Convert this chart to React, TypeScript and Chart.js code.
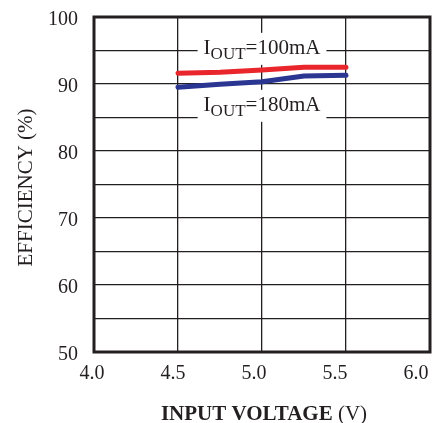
import React, { useEffect, useRef } from "react";
import { Chart, registerables } from "chart.js";

Chart.register(...registerables);

// ---- data ----
const inputVoltage = [4.5, 4.75, 5.0, 5.25, 5.5];
const eff100mA = [91.6, 91.75, 92.1, 92.5, 92.5];
const eff180mA = [89.5, 89.95, 90.35, 91.2, 91.3];
const xTickValues = [4.0, 4.5, 5.0, 5.5, 6.0];
const yMin = 50;
const yMax = 100;
const xMin = 4.0;
const xMax = 6.0;
const labels = [
  { main: "I", sub: "OUT", rest: "=100mA", x: 5.0, y: 94.5 },
  { main: "I", sub: "OUT", rest: "=180mA", x: 5.0, y: 86.0 },
];

const INK = "#231f20";
const SERIF = "'Liberation Serif', 'Times New Roman', serif";

const overlayPlugin = {
  id: "overlay",
  beforeDatasetsDraw(chart: any) {
    const { ctx, chartArea } = chart;
    const xs = chart.scales.x;
    const ys = chart.scales.y;
    ctx.save();
    // frame
    ctx.strokeStyle = INK;
    ctx.lineWidth = 3;
    ctx.strokeRect(chartArea.left, chartArea.top, chartArea.right - chartArea.left, chartArea.bottom - chartArea.top);
    // annotation labels with white boxes
    for (const l of labels) {
      const cx = xs.getPixelForValue(l.x);
      const by = ys.getPixelForValue(l.y);
      ctx.font = `21px ${SERIF}`;
      const wMain = ctx.measureText(l.main).width;
      const wRest = ctx.measureText(l.rest).width;
      ctx.font = `17px ${SERIF}`;
      const wSub = ctx.measureText(l.sub).width;
      const total = wMain + wSub + wRest;
      const left = cx - total / 2;
      ctx.fillStyle = "#ffffff";
      ctx.fillRect(left - 6, by - 21, total + 12, 32);
      ctx.fillStyle = INK;
      ctx.textBaseline = "alphabetic";
      ctx.textAlign = "left";
      ctx.font = `21px ${SERIF}`;
      ctx.fillText(l.main, left, by);
      ctx.font = `17px ${SERIF}`;
      ctx.fillText(l.sub, left + wMain, by + 5);
      ctx.font = `21px ${SERIF}`;
      ctx.fillText(l.rest, left + wMain + wSub, by);
    }
    ctx.restore();
  },
  afterDraw(chart: any) {
    const { ctx, chartArea } = chart;
    ctx.save();
    ctx.fillStyle = INK;
    // y title
    ctx.translate(chartArea.left - 62, (chartArea.top + chartArea.bottom) / 2 + 3);
    ctx.rotate(-Math.PI / 2);
    ctx.textAlign = "center";
    ctx.textBaseline = "alphabetic";
    ctx.font = `21px ${SERIF}`;
    ctx.fillText("EFFICIENCY (%)", 0, 0);
    ctx.restore();
    // x title
    ctx.save();
    ctx.fillStyle = INK;
    ctx.textBaseline = "alphabetic";
    ctx.textAlign = "left";
    const boldPart = "INPUT VOLTAGE ";
    const regPart = "(V)";
    ctx.font = `bold 21px ${SERIF}`;
    const wb = ctx.measureText(boldPart).width;
    ctx.font = `21px ${SERIF}`;
    const wr = ctx.measureText(regPart).width;
    const cx = (chartArea.left + chartArea.right) / 2 + 2;
    const start = cx - (wb + wr) / 2;
    const base = chartArea.bottom + 68;
    ctx.font = `bold 21px ${SERIF}`;
    ctx.fillText(boldPart, start, base);
    ctx.font = `21px ${SERIF}`;
    ctx.fillText(regPart, start + wb, base);
    ctx.restore();
  },
};

export default function App() {
  const canvasRef = useRef<HTMLCanvasElement | null>(null);

  useEffect(() => {
    document.body.style.margin = "0";
    const canvas = canvasRef.current;
    if (!canvas) return;
    const chart = new Chart(canvas, {
      type: "line",
      data: {
        datasets: [
          {
            label: "IOUT=100mA",
            data: inputVoltage.map((v, i) => ({ x: v, y: eff100mA[i] })),
            borderColor: "#e8262b",
            borderWidth: 5,
            borderCapStyle: "round",
            borderJoinStyle: "round",
            pointRadius: 0,
            tension: 0,
            fill: false,
          },
          {
            label: "IOUT=180mA",
            data: inputVoltage.map((v, i) => ({ x: v, y: eff180mA[i] })),
            borderColor: "#2b3592",
            borderWidth: 5,
            borderCapStyle: "round",
            borderJoinStyle: "round",
            pointRadius: 0,
            tension: 0,
            fill: false,
          },
        ],
      },
      options: {
        animation: false,
        responsive: false,
        maintainAspectRatio: false,
        devicePixelRatio: 1,
        layout: { padding: { top: 17, right: 15, left: 0, bottom: 0 } },
        plugins: {
          legend: { display: false },
          tooltip: { enabled: false },
          title: { display: false },
        },
        scales: {
          x: {
            type: "linear",
            position: "bottom",
            min: xMin,
            max: xMax,
            ticks: { display: false, stepSize: 0.5 },
            grid: { color: INK, lineWidth: 1.3, drawTicks: false },
            border: { display: false },
            afterFit: (s: any) => {
              s.height = 0;
              s.paddingLeft = 0;
              s.paddingRight = 0;
            },
          },
          xl: {
            type: "linear",
            position: "bottom",
            min: 4.01235,
            max: 6.0864,
            afterBuildTicks: (s: any) => {
              s.ticks = xTickValues.map((v) => ({ value: v }));
            },
            ticks: {
              autoSkip: false,
              maxRotation: 0,
              padding: 10,
              color: INK,
              font: { family: SERIF, size: 20 },
              callback: (v: any) => Number(v).toFixed(1),
            },
            grid: { display: false, drawTicks: false },
            border: { display: false },
            afterFit: (s: any) => {
              s.height = 71;
              s.paddingLeft = 0;
              s.paddingRight = 0;
            },
          },
          y: {
            type: "linear",
            min: yMin,
            max: yMax,
            ticks: {
              stepSize: 5,
              padding: 16,
              labelOffset: 3,
              color: INK,
              font: { family: SERIF, size: 20 },
              callback: (v: any) => (Number(v) % 10 === 0 ? String(v) : ""),
            },
            grid: { color: INK, lineWidth: 1.3, drawTicks: false },
            border: { display: false },
            afterFit: (s: any) => {
              s.width = 94;
              s.paddingTop = 0;
              s.paddingBottom = 0;
            },
          },
        },
      } as any,
      plugins: [overlayPlugin],
    });
    return () => chart.destroy();
  }, []);

  return (
    <div style={{ width: 445, height: 423 }}>
      <canvas ref={canvasRef} width={445} height={423} style={{ display: "block", width: 445, height: 423 }} />
    </div>
  );
}
